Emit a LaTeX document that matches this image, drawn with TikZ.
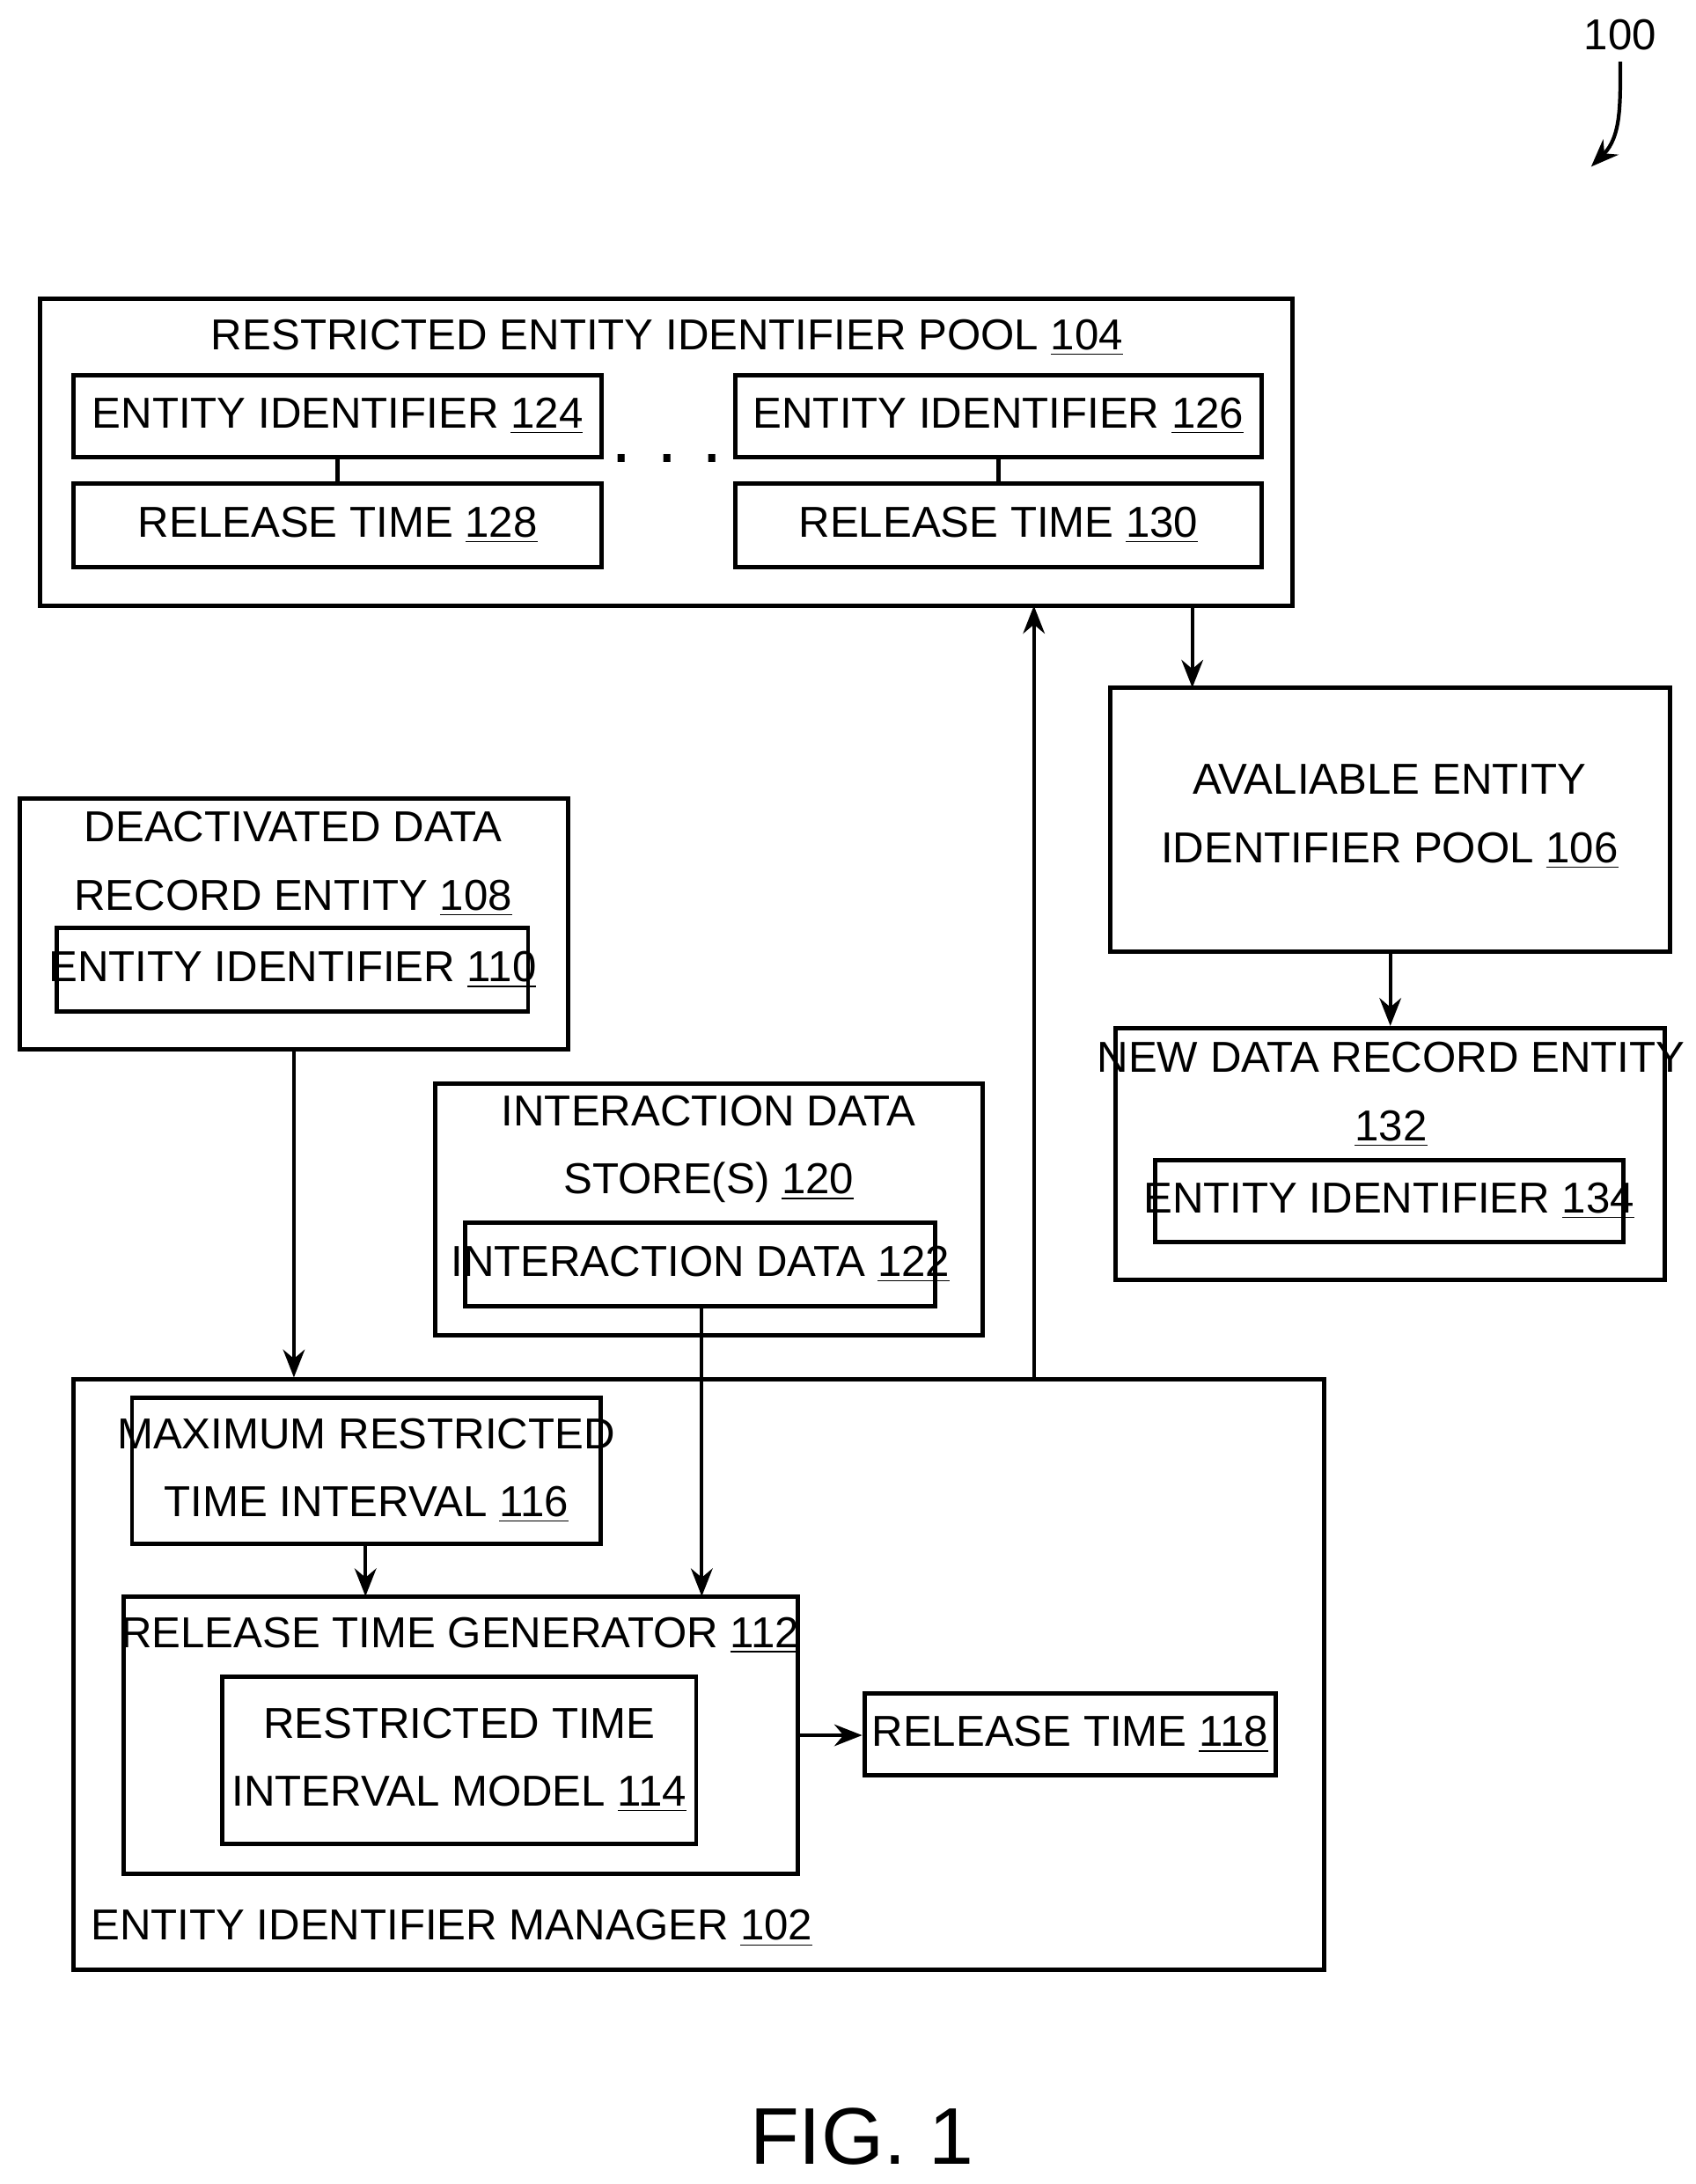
\documentclass[tikz,border=0pt]{standalone}
\usepackage{fontspec}
\setmainfont{Liberation Sans}
\usetikzlibrary{fit,arrows.meta}
\newcommand{\refn}[1]{\underline{#1}}
\tikzset{
  box/.style={draw,line width=1.4pt,inner sep=0pt},
  lbl/.style={font=\fontsize{14}{22}\selectfont,align=center,inner sep=0pt},
  flow/.style={-{Stealth[length=9pt,width=7pt]},line width=1.2pt}
}
\begin{document}
\begin{tikzpicture}[x=0.01579cm,y=-0.01579cm]
\useasboundingbox (0,0) rectangle (1220,1572);
% restricted pool
\node[box,fit={(29,215)(930,436)}] (pool) {};
\node[lbl] (poolt) at (480,243) {RESTRICTED ENTITY IDENTIFIER POOL \refn{104}};
\node[box,fit={(53,270)(433,329)}] (eA) {};
\node[lbl] at (eA) {ENTITY IDENTIFIER \refn{124}};
\node[box,fit={(53,348)(433,408)}] (rA) {};
\node[lbl] at (rA) {RELEASE TIME \refn{128}};
\node[box,fit={(529,270)(908,329)}] (eB) {};
\node[lbl] at (eB) {ENTITY IDENTIFIER \refn{126}};
\node[box,fit={(529,348)(908,408)}] (rB) {};
\node[lbl] at (rB) {RELEASE TIME \refn{130}};
\draw[line width=1.4pt] (eA.south) -- (rA.north);
\draw[line width=1.4pt] (eB.south) -- (rB.north);
\node[lbl,font=\fontsize{24}{24}\selectfont] (dots) at (480,330) {.\,\,.\,\,.};
% available pool
\node[box,fit={(799,495)(1202,685)}] (avail) {};
\node[lbl] at (1000,588) {AVALIABLE ENTITY\\IDENTIFIER POOL \refn{106}};
% new record
\node[box,fit={(803,740)(1198,921)}] (newrec) {};
\node[lbl] at (1001,788) {NEW DATA RECORD ENTITY\\\refn{132}};
\node[box,fit={(831,835)(1168,894)}] (eNew) {};
\node[lbl] at (eNew) {ENTITY IDENTIFIER \refn{134}};
% deactivated
\node[box,fit={(14,575)(409,755)}] (deact) {};
\node[lbl] at (211,622) {DEACTIVATED DATA\\RECORD ENTITY \refn{108}};
\node[box,fit={(41,668)(380,728)}] (eOld) {};
\node[lbl] at (eOld) {ENTITY IDENTIFIER \refn{110}};
% interaction store
\node[box,fit={(313,780)(707,961)}] (store) {};
\node[lbl] at (510,827) {INTERACTION DATA\\STORE(S) \refn{120}};
\node[box,fit={(335,880)(673,940)}] (idata) {};
\node[lbl] at (idata) {INTERACTION DATA \refn{122}};
% manager
\node[box,fit={(53,993)(953,1418)}] (mgr) {};
\node[lbl,anchor=west] at (65,1388) {ENTITY IDENTIFIER MANAGER \refn{102}};
\node[box,fit={(95,1006)(432,1111)}] (maxint) {};
\node[lbl] at (maxint) {MAXIMUM RESTRICTED\\TIME INTERVAL \refn{116}};
\node[box,fit={(89,1149)(574,1349)}] (gen) {};
\node[lbl] at (331,1177) {RELEASE TIME GENERATOR \refn{112}};
\node[box,fit={(160,1207)(501,1327)}] (model) {};
\node[lbl] at (model) {RESTRICTED TIME\\INTERVAL MODEL \refn{114}};
\node[box,fit={(622,1219)(918,1278)}] (rtime) {};
\node[lbl] at (rtime) {RELEASE TIME \refn{118}};
% connectors
\draw[flow] (deact.south) -- (deact.south |- mgr.north);
\draw[flow] (505,940) -- (505,1149);
\draw[flow] (maxint.south -| 263,0) -- (263,1149);
\draw[flow] (574,1249) -- (rtime.west |- 0,1249);
\draw[flow] (744,993) -- (744,436);
\draw[flow] (858,436) -- (858,495);
\draw[flow] (avail.south) -- (newrec.north);
% figure number
\node[lbl] (num) at (1166,25) {100};
\coordinate (numtip) at (1145,120);
\draw[flow] (num.south) ++(0,8) to[out=-90,in=45] (numtip);
\node[lbl,font=\fontsize{26}{26}\selectfont] (fig) at (620,1538) {FIG. 1};
\end{tikzpicture}
\end{document}
